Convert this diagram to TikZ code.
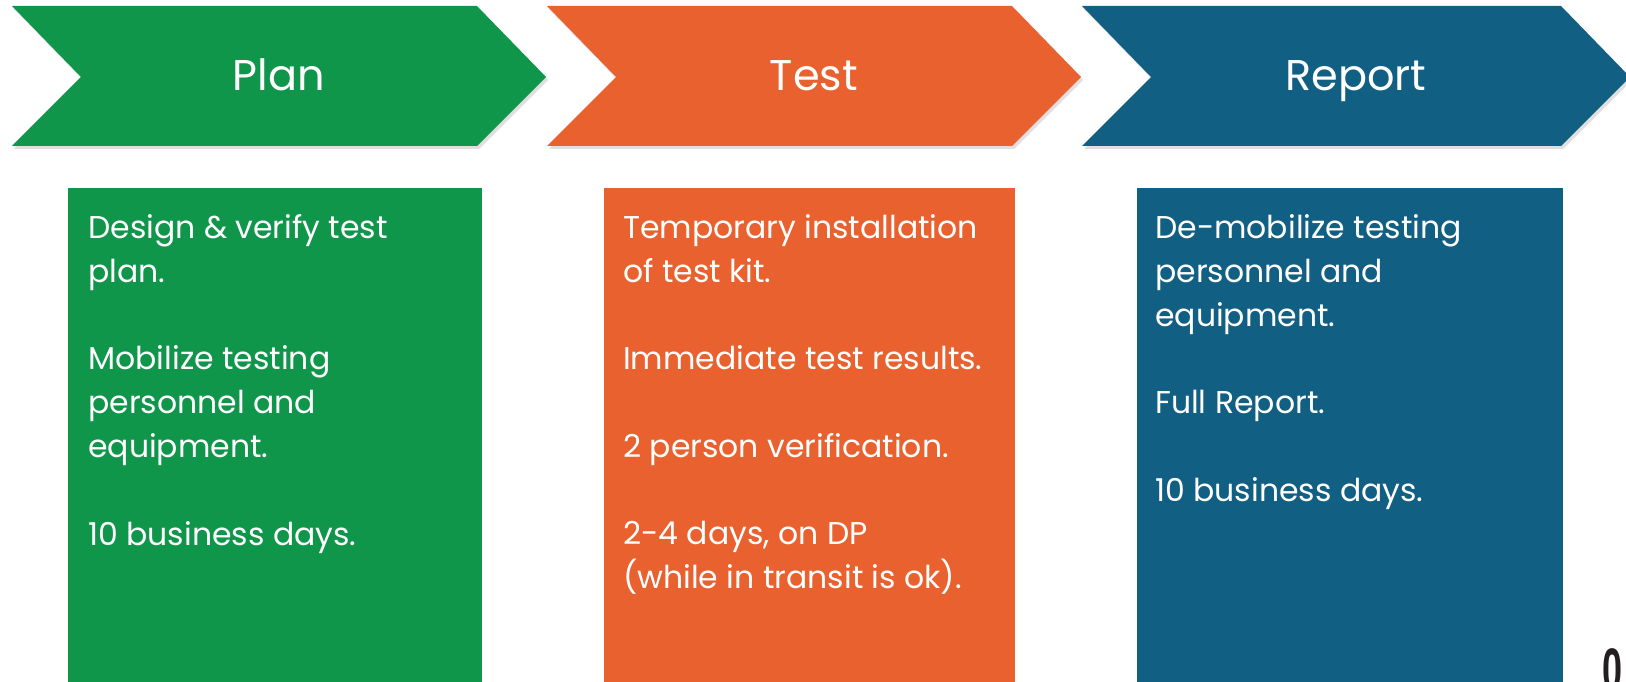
\documentclass[tikz,border=0pt]{standalone}
\usepackage{fontspec}
\setmainfont{Poppins}
\newfontfamily\numfont{Liberation Sans}
\usepackage{xcolor}
\usetikzlibrary{calc}
\usetikzlibrary{shadows}

\definecolor{plangreen}{RGB}{16,150,74}
\definecolor{testorange}{RGB}{232,97,46}
\definecolor{reportblue}{RGB}{18,95,132}

\begin{document}
\begin{tikzpicture}[x=1pt, y=-1pt,
    chevron/.style={drop shadow={shadow xshift=2pt, shadow yshift=-3pt, opacity=0.25}},
    panel/.style={drop shadow={shadow xshift=0pt, shadow yshift=-1pt, opacity=0.25}},
    title/.style={text=white, font=\fontsize{43}{43}\selectfont, anchor=base, inner sep=0pt},
    bodytext/.style={text=white, font=\fontsize{31.5}{44}\selectfont, align=left, anchor=north west, inner sep=0pt}]

    % Fix the size of the picture
    \useasboundingbox (0,0) rectangle (1626,682);
    \fill[white] (0,0) rectangle (1626,682);

    % Define the coordinates of the chevron corners
    \coordinate (P) at (12, 6);
    \coordinate (T) at (547, 6);
    \coordinate (R) at (1082, 6);

    % Draw the chevrons
    \fill[plangreen, chevron] (P) -- ++(465,0) -- ++(69,71) -- ++(-69,69) -- ++(-465,0) -- ++(69,-69) -- cycle;
    \fill[testorange, chevron] (T) -- ++(465,0) -- ++(69,71) -- ++(-69,69) -- ++(-465,0) -- ++(69,-69) -- cycle;
    \fill[reportblue, chevron] (R) -- ++(479,0) -- ++(69,71) -- ++(-69,69) -- ++(-479,0) -- ++(69,-69) -- cycle;

    % Label the chevrons
    \node[title] (plan) at (279, 91) {Plan};
    \node[title] (test) at (814, 91) {Test};
    \node[title] (report) at (1356, 91) {Report};

    % Draw the panels below
    \fill[plangreen, panel] (68, 188) rectangle (482, 720);
    \fill[testorange, panel] (604, 188) rectangle (1015, 720);
    \fill[reportblue, panel] (1137, 188) rectangle (1563, 720);

    % Fill in the panel texts
    \node[bodytext] (plantext) at (88, 214)
        {Design \& verify test\\plan.\\[43.6pt]Mobilize testing\\personnel and\\equipment.\\[43.6pt]10 business days.};
    \node[bodytext] (testtext) at (623, 214)
        {Temporary installation\\of test kit.\\[43.6pt]Immediate test results.\\[43.6pt]2 person verification.\\[43.6pt]2-4 days, on DP\\(while in transit is ok).};
    \node[bodytext] (reporttext) at (1155, 214)
        {De-mobilize testing\\personnel and\\equipment.\\[43.6pt]Full Report.\\[43.6pt]10 business days.};

    % Page number, cut off at the bottom
    \node[text={rgb,255:red,35;green,31;blue,32}, font=\numfont\bfseries\fontsize{60}{60}\selectfont,
        xscale=0.6, anchor=north, inner sep=0pt] (pagenum) at (1612, 648) {0};
\end{tikzpicture}
\end{document}
